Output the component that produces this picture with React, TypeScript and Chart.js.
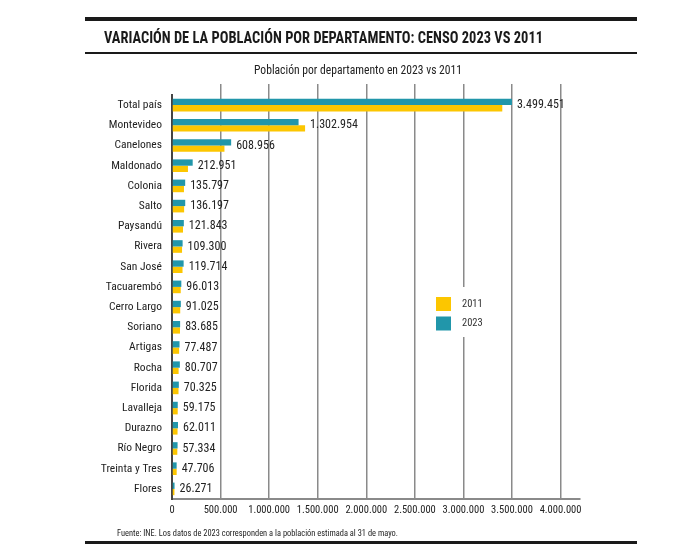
import React, { useEffect, useRef } from "react";
import { Chart, registerables } from "chart.js";

Chart.register(...registerables);

const categories = [
  "Total país", "Montevideo", "Canelones", "Maldonado", "Colonia", "Salto", "Paysandú",
  "Rivera", "San José", "Tacuarembó", "Cerro Largo", "Soriano", "Artigas", "Rocha",
  "Florida", "Lavalleja", "Durazno", "Río Negro", "Treinta y Tres", "Flores",
];
const values2023 = [
  3499451, 1302954, 608956, 212951, 135797, 136197, 121843, 109300, 119714, 96013,
  91025, 83685, 77487, 80707, 70325, 59175, 62011, 57334, 47706, 26271,
];
const values2011 = [
  3400000, 1370000, 540000, 164300, 123203, 124878, 113124, 103493, 108309, 90053,
  84698, 82595, 73378, 68088, 67048, 58815, 57088, 54765, 48134, 25050,
];
const seriesLabels = ["2023", "2011"];
const tickValues = [0, 500000, 1000000, 1500000, 2000000, 2500000, 3000000, 3500000, 4000000];
const xMax = 4200000;

const TEAL = "#2196aa";
const YELLOW = "#fcc600";
const FONT = '"Roboto Condensed", Roboto, sans-serif';

const fmt = (v: number) => Math.round(v).toString().replace(/\B(?=(\d{3})+(?!\d))/g, ".");

const setTicks = (scale: any) => {
  scale.ticks = tickValues.map((v) => ({ value: v }));
};

const valueLabelPlugin = {
  id: "valueLabels",
  afterDatasetsDraw(chart: any) {
    const ctx = chart.ctx;
    const m0 = chart.getDatasetMeta(0);
    const m1 = chart.getDatasetMeta(1);
    ctx.save();
    ctx.font = `12px ${FONT}`;
    ctx.fillStyle = "#222";
    ctx.textBaseline = "middle";
    ctx.textAlign = "left";
    m0.data.forEach((el: any, i: number) => {
      const el1 = m1.data[i];
      const x = Math.max(el.x, el1.x) + 5;
      const y = (el.y + el1.y) / 2;
      ctx.fillText(fmt(values2023[i]), x, y);
    });
    ctx.restore();
  },
};

const legendPlugin = {
  id: "boxLegend",
  afterDraw(chart: any) {
    const ctx = chart.ctx;
    const ds = chart.data.datasets;
    const items = [ds[1], ds[0]];
    ctx.save();
    ctx.fillStyle = "#ffffff";
    ctx.fillRect(425, 287, 80, 50);
    ctx.font = `10.5px ${FONT}`;
    ctx.textBaseline = "middle";
    ctx.textAlign = "left";
    items.forEach((d: any, i: number) => {
      const top = 297 + i * 19.5;
      ctx.fillStyle = d.backgroundColor;
      ctx.fillRect(436, top, 15, 14);
      ctx.fillStyle = "#333";
      ctx.fillText(d.label, 462, top + 7.3);
    });
    ctx.restore();
  },
};

function FitText(props: { width: number; style: React.CSSProperties; children: React.ReactNode }) {
  const ref = useRef<HTMLDivElement>(null);
  useEffect(() => {
    const el = ref.current;
    if (!el) return;
    el.style.transform = "none";
    const w = el.getBoundingClientRect().width;
    if (w > 0) el.style.transform = `scaleX(${props.width / w})`;
  }, [props.width]);
  return (
    <div ref={ref} style={{ position: "absolute", whiteSpace: "nowrap", transformOrigin: "left center", ...props.style }}>
      {props.children}
    </div>
  );
}

export default function App() {
  const ref = useRef<HTMLCanvasElement>(null);

  useEffect(() => {
    if (!ref.current) return;
    const chart = new Chart(ref.current, {
      type: "bar",
      data: {
        labels: categories,
        datasets: [
          { label: seriesLabels[0], data: values2023, backgroundColor: TEAL, borderWidth: 0, categoryPercentage: 0.625, barPercentage: 1 },
          { label: seriesLabels[1], data: values2011, backgroundColor: YELLOW, borderWidth: 0, categoryPercentage: 0.625, barPercentage: 1 },
        ],
      },
      options: {
        indexAxis: "y",
        responsive: false,
        animation: false,
        layout: { padding: { top: 84, left: 0, right: 120, bottom: 36 } },
        plugins: {
          legend: { display: false },
          tooltip: { enabled: false },
          title: { display: false },
        },
        scales: {
          x: {
            type: "linear",
            position: "bottom",
            min: 0,
            max: xMax,
            afterBuildTicks: setTicks,
            afterFit: (s: any) => { s.height = 25; },
            ticks: {
              padding: 5,
              maxRotation: 0,
              autoSkip: false,
              color: "#222",
              font: { family: FONT, size: 10.5 },
              callback: (v: any) => fmt(Number(v)),
            },
            grid: { color: "#8a8a8a", lineWidth: 1.5, drawTicks: false },
            border: { color: "#8a8a8a", width: 2 },
          },
          x2: {
            type: "linear",
            position: "top",
            min: 0,
            max: xMax,
            afterBuildTicks: setTicks,
            afterFit: (s: any) => { s.height = 11; },
            ticks: { display: false },
            grid: {
              drawOnChartArea: false,
              drawTicks: true,
              tickLength: 11,
              lineWidth: 1.5,
              color: (c: any) => (c.tick && c.tick.value === 0 ? "rgba(0,0,0,0)" : "#8a8a8a"),
            },
            border: { display: false },
          },
          y: {
            type: "category",
            afterFit: (s: any) => { s.width = 172; },
            grid: { display: false, drawTicks: false },
            border: { color: "#444", width: 2 },
            ticks: {
              padding: 10,
              autoSkip: false,
              color: "#222",
              font: { family: FONT, size: 11.5 },
            },
          },
        },
      },
      plugins: [valueLabelPlugin, legendPlugin],
    } as any);
    return () => chart.destroy();
  }, []);

  const line = (top: number, h: number): React.CSSProperties => ({
    position: "absolute", left: 85, top, width: 552, height: h, background: "#1a1a1a",
  });

  return (
    <div style={{ position: "fixed", left: 0, top: 0, width: 700, height: 560, background: "#fff", overflow: "hidden" }}>
      <canvas ref={ref} width={700} height={560} style={{ position: "absolute", left: 0, top: 0, width: 700, height: 560 }} />
      <div style={line(17, 4)} />
      <FitText
        width={439}
        style={{ left: 104, top: 28.5, fontFamily: FONT, fontWeight: "bold", fontSize: 17, lineHeight: "17px", color: "#1a1a1a" }}
      >
        VARIACIÓN DE LA POBLACIÓN POR DEPARTAMENTO: CENSO 2023 VS 2011
      </FitText>
      <div style={line(51.7, 2)} />
      <FitText
        width={208}
        style={{ left: 254, top: 63.5, fontFamily: FONT, fontSize: 12.5, lineHeight: "12.5px", color: "#222" }}
      >
        Población por departamento en 2023 vs 2011
      </FitText>
      <FitText
        width={281}
        style={{ left: 117, top: 528, fontFamily: FONT, fontSize: 9.5, lineHeight: "9.5px", color: "#222" }}
      >
        Fuente: INE. Los datos de 2023 corresponden a la población estimada al 31 de mayo.
      </FitText>
      <div style={line(540.5, 3.5)} />
    </div>
  );
}
